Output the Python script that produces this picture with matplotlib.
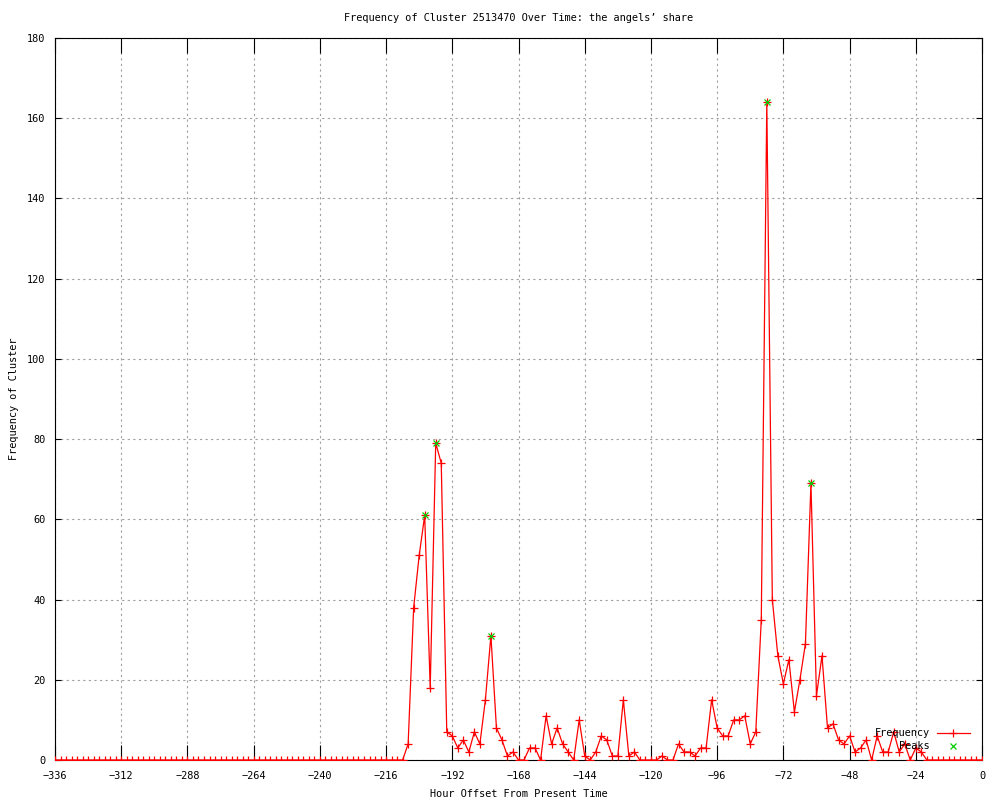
import numpy as np
import matplotlib
matplotlib.use('Agg')
import matplotlib.pyplot as plt
from matplotlib.lines import Line2D

# hour offsets, one sample every 2 hours
hours = np.arange(-336, 1, 2)

# frequency per 2h bucket (-336 .. 0)
freq = [
    0, 0, 0, 0, 0, 0, 0, 0, 0, 0, 0, 0, 0, 0, 0, 0,      # -336 .. -306
    0, 0, 0, 0, 0, 0, 0, 0, 0, 0, 0, 0, 0, 0, 0, 0,      # -304 .. -274
    0, 0, 0, 0, 0, 0, 0, 0, 0, 0, 0, 0, 0, 0, 0, 0,      # -272 .. -242
    0, 0, 0, 0, 0, 0, 0, 0, 0, 0, 0, 0, 0, 0, 0, 0,      # -240 .. -210
    4, 38, 51, 61, 18, 79, 74, 7, 6, 3, 5, 2, 7, 4, 15, 31,   # -208 .. -178
    8, 5, 1, 2, 0, 0, 3, 3, 0, 11, 4, 8, 4, 2, 0, 10,        # -176 .. -146
    1, 0, 2, 6, 5, 1, 1, 15, 1, 2, 0, 0, 0, 0, 1, 0,         # -144 .. -114
    0, 4, 2, 2, 1, 3, 3, 15, 8, 6, 6, 10, 10, 11, 4, 7,      # -112 .. -82
    35, 164, 40, 26, 19, 25, 12, 20, 29, 69, 16, 26, 8, 9, 5, 4,  # -80 .. -50
    6, 2, 3, 5, 0, 6, 2, 2, 7, 2, 4, 0, 3, 2, 0,             # -48 .. -20
    0, 0, 0, 0, 0, 0, 0, 0, 0, 0,                            # -18 .. 0
]

peak_hours = [-202, -198, -178, -78, -62]
peak_vals = [61, 79, 31, 164, 69]

title = "Frequency of Cluster 2513470 Over Time: the angels\u2019 share"
xticks = list(range(-336, 1, 24))
yticks = list(range(0, 181, 20))

plt.rcParams['font.family'] = ['DejaVu Sans Mono']
fs = 7.4

fig = plt.figure(figsize=(10, 8), dpi=100)
ax = fig.add_axes([0.055, 0.05, 0.927, 0.9025])

ax.plot(hours, freq, color='#ff0000', lw=0.9, marker='+', ms=6, mew=0.9, zorder=3)
ax.plot(peak_hours, peak_vals, ls='none', marker='x', color='#00cc00', ms=5, mew=0.9, zorder=4)

ax.set_xlim(-336, 0)
ax.set_ylim(0, 180)
ax.set_xticks(xticks)
ax.set_yticks(yticks)
ax.tick_params(axis='x', direction='in', length=11, width=0.8, top=True, pad=8, labelsize=fs)
ax.tick_params(axis='y', direction='in', length=4, width=0.8, right=True, pad=7, labelsize=fs)
ax.grid(True, color='#a0a0a0', ls=(0, (2, 3)), lw=0.8)
for s in ax.spines.values():
    s.set_linewidth(0.8)

ax.set_title(title, fontsize=fs, pad=12)
ax.set_xlabel("Hour Offset From Present Time", fontsize=fs, labelpad=6)
ax.set_ylabel("Frequency of Cluster", fontsize=fs, labelpad=6)

# gnuplot style key, bottom right inside the plot
tr = ax.transAxes
ax.text(0.944, 0.0374, "Frequency", transform=tr, ha='right', va='center', fontsize=fs, zorder=6)
ax.add_line(Line2D([0.9515, 0.987], [0.0374, 0.0374], transform=tr, color='#ff0000', lw=0.9, zorder=6))
ax.add_line(Line2D([0.969], [0.0374], transform=tr, color='#ff0000', marker='+', ms=6, mew=0.9, zorder=6))
ax.text(0.944, 0.0194, "Peaks", transform=tr, ha='right', va='center', fontsize=fs, zorder=6)
ax.add_line(Line2D([0.969], [0.0194], transform=tr, ls='none', color='#00cc00', marker='x', ms=5, mew=0.9, zorder=6))

fig.savefig('out.png', dpi=100)
